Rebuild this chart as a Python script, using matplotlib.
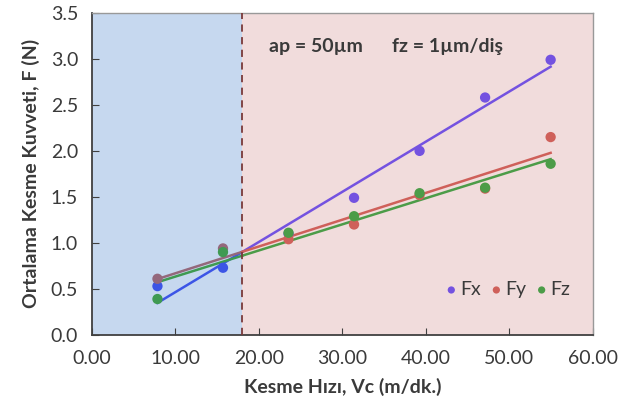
import matplotlib
matplotlib.use("Agg")
import matplotlib.pyplot as plt
import numpy as np

# cutting speed (m/dk.) and mean cutting forces (N)
vc = [7.85, 15.70, 23.55, 31.40, 39.25, 47.10, 54.95]
fx = [0.53, 0.73, 1.10, 1.49, 2.00, 2.58, 2.99]
fy = [0.61, 0.94, 1.04, 1.20, 1.52, 1.59, 2.15]
fz = [0.39, 0.90, 1.11, 1.29, 1.54, 1.60, 1.86]
names = ["Fx", "Fy", "Fz"]
colors = ["#7452e0", "#cf605a", "#4c9c48"]
# the same series look different under the blue shading
colors_blue = ["#3c55e6", "#94687c", "#3f9a52"]
split_vc = 18.0

plt.rcParams["font.family"] = ["Lato", "DejaVu Sans"]
text_col = "#3a3a3a"
fs = 14

fig = plt.figure(figsize=(6.34, 4.15), dpi=100)
ax = fig.add_axes([0.145, 0.193, 0.790, 0.776])

ax.axvspan(0, split_vc, color="#c6d8ef", zorder=0, lw=0)
ax.axvspan(split_vc, 60, color="#f1dcdc", zorder=0, lw=0)

x = np.array(vc)
for name, vals, c, cb in zip(names, [fx, fy, fz], colors, colors_blue):
    vals = np.array(vals)
    left = x < split_vc
    ax.scatter(x[~left], vals[~left], s=55, color=c, zorder=3, label=name, edgecolors="none")
    ax.scatter(x[left], vals[left], s=55, color=cb, zorder=3, edgecolors="none")
    k, b = np.polyfit(x, vals, 1)
    ax.plot([x[0], split_vc], [k * x[0] + b, k * split_vc + b], color=cb, lw=1.8, zorder=2)
    ax.plot([split_vc, x[-1]], [k * split_vc + b, k * x[-1] + b], color=c, lw=1.8, zorder=2)

ax.axvline(split_vc, color="#7a3a3a", ls=(0, (4, 3)), lw=1.3, zorder=4)

ax.text(21.2, 3.13, "ap = 50\u00b5m", fontsize=fs, color=text_col, va="center", fontweight="bold")
ax.text(36.0, 3.13, "fz = 1\u00b5m/di\u015f", fontsize=fs, color=text_col, va="center", fontweight="bold")

ax.set_xlim(0, 60)
ax.set_ylim(0, 3.5)
ax.set_xticks(np.arange(0, 61, 10))
ax.set_xticklabels([f"{v:.2f}" for v in np.arange(0, 61, 10)])
ax.set_yticks(np.arange(0, 3.51, 0.5))
ax.set_yticklabels([f"{v:.1f}" for v in np.arange(0, 3.51, 0.5)])
ax.tick_params(direction="in", length=5, color="#404040", labelsize=fs, labelcolor=text_col)
ax.tick_params(axis="x", pad=11)
ax.tick_params(axis="y", pad=10)

for side in ["left", "bottom"]:
    ax.spines[side].set_color("#404040")
    ax.spines[side].set_linewidth(1.3)
for side in ["top", "right"]:
    ax.spines[side].set_color("#999999")
    ax.spines[side].set_linewidth(1.0)

ax.set_xlabel("Kesme H\u0131z\u0131, Vc (m/dk.)", fontsize=fs, fontweight="bold", color=text_col, labelpad=8)
ax.set_ylabel("Ortalama Kesme Kuvveti, F (N)", fontsize=fs, fontweight="bold", color=text_col, labelpad=8)

leg = ax.legend(loc="lower right", bbox_to_anchor=(0.99, 0.06), ncol=3, frameon=False,
                handletextpad=0.1, handlelength=0.7, columnspacing=0.45, fontsize=fs,
                markerscale=0.7)
for t in leg.get_texts():
    t.set_color(text_col)

fig.savefig("out.png", dpi=100)
